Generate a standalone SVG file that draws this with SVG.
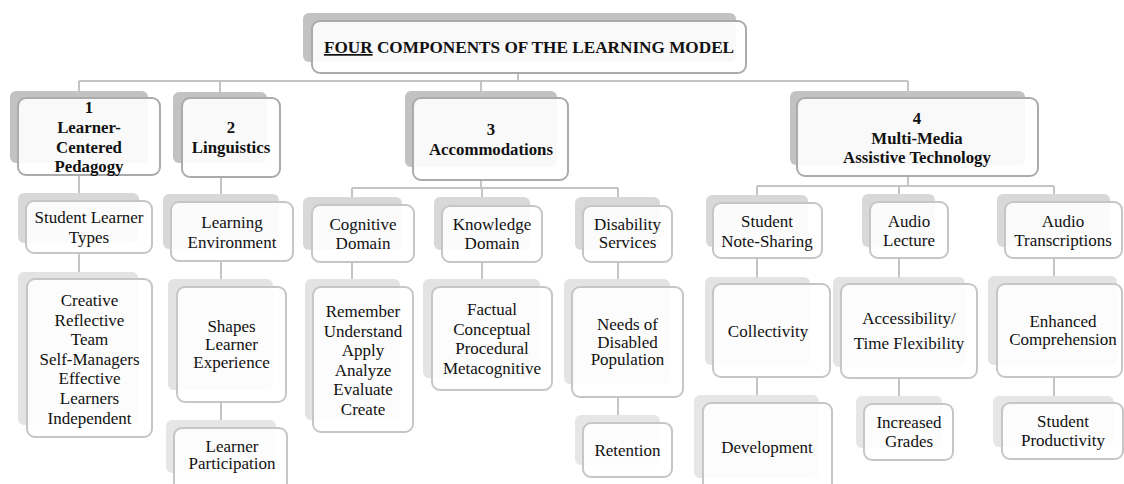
<svg xmlns="http://www.w3.org/2000/svg" width="1124" height="484" viewBox="0 0 1124 484">
<style>
.bg{fill:#ffffff}
.s0{fill:#c2c2c2}
.s1{fill:#d8d8d8}
.s2{fill:#e3e3e3}
.s3{fill:#e6e6e6}
.b0{fill:#ffffff;fill-opacity:0.9;stroke:#ababab;stroke-width:2}
.b1{fill:#ffffff;fill-opacity:0.88;stroke:#c6c6c6;stroke-width:2}
.c{fill:none;stroke:#c4c4c4;stroke-width:2}
text{font-family:'Liberation Serif','Times New Roman',serif;fill:#111;text-anchor:middle}
.tb{font-weight:bold;font-size:16.8px}
.tt{font-weight:bold;font-size:17.2px}
.t{font-size:17px}
</style>
<rect class="bg" x="0" y="0" width="1124" height="484"/>
<g id="connectors">
<path class="c" d="M518,73V81M79,81H908M79,81V91M220,81V92M481,81V91M908,81V91"/>
<path class="c" d="M79,175V193M221,177V194"/>
<path class="c" d="M481,180V188M352,188H618M352,188V197M482,188V197M618,188V197"/>
<path class="c" d="M908,176V186M757,186H1054M757,186V195M899,186V194M1054,186V194"/>
<path class="c" d="M79,253V272M221,261V279M352,262V279M482,262V279M618,262V279M757,258V277M899,258V277M1054,258V276"/>
<path class="c" d="M221,402V420M618,397V415M757,377V395M899,378V396M1054,377V396"/>
</g>
<g id="title">
<rect class="s0" x="303" y="13" width="433" height="49" rx="6"/>
<rect class="b0" x="312" y="21" width="434" height="52" rx="8"/>
<text class="tt" x="529" y="53"><tspan text-decoration="underline">FOUR</tspan> COMPONENTS OF THE LEARNING MODEL</text>
</g>
<g id="n1">
<rect class="s0" x="10" y="91" width="138" height="72" rx="6"/>
<rect class="b0" x="18" y="98" width="142" height="77" rx="8"/>
<text class="tb"><tspan x="89" y="113">1</tspan><tspan x="89" y="133">Learner-</tspan><tspan x="89" y="152.5">Centered</tspan><tspan x="89" y="172">Pedagogy</tspan></text>
</g>
<g id="n2">
<rect class="s0" x="173" y="92" width="94" height="71" rx="6"/>
<rect class="b0" x="182" y="98" width="98" height="79" rx="8"/>
<text class="tb"><tspan x="231" y="133">2</tspan><tspan x="231" y="153">Linguistics</tspan></text>
</g>
<g id="n3">
<rect class="s0" x="405" y="91" width="152" height="76" rx="6"/>
<rect class="b0" x="413" y="98" width="155" height="82" rx="8"/>
<text class="tb"><tspan x="491" y="135">3</tspan><tspan x="491" y="155">Accommodations</tspan></text>
</g>
<g id="n4">
<rect class="s0" x="790" y="91" width="235" height="74" rx="6"/>
<rect class="b0" x="797" y="98" width="241" height="78" rx="8"/>
<text class="tb"><tspan x="917" y="124">4</tspan><tspan x="917" y="143.5">Multi-Media</tspan><tspan x="917" y="163">Assistive Technology</tspan></text>
</g>
<g id="slt">
<rect class="s1" x="18" y="193" width="121" height="50" rx="6"/>
<rect class="b1" x="26" y="201" width="126" height="52" rx="8"/>
<text class="t"><tspan x="89" y="223">Student Learner</tspan><tspan x="89" y="242.5">Types</tspan></text>
</g>
<g id="le">
<rect class="s1" x="163" y="194" width="116" height="55" rx="6"/>
<rect class="b1" x="171" y="202" width="122" height="59" rx="8"/>
<text class="t"><tspan x="232" y="228">Learning</tspan><tspan x="232" y="248">Environment</tspan></text>
</g>
<g id="cd">
<rect class="s1" x="303" y="197" width="99" height="53" rx="6"/>
<rect class="b1" x="312" y="205" width="102" height="57" rx="8"/>
<text class="t"><tspan x="363" y="230">Cognitive</tspan><tspan x="363" y="249">Domain</tspan></text>
</g>
<g id="kd">
<rect class="s1" x="434" y="197" width="96" height="53" rx="6"/>
<rect class="b1" x="442" y="206" width="100" height="56" rx="8"/>
<text class="t"><tspan x="492" y="230">Knowledge</tspan><tspan x="492" y="249">Domain</tspan></text>
</g>
<g id="ds">
<rect class="s1" x="575" y="197" width="85" height="53" rx="6"/>
<rect class="b1" x="583" y="206" width="89" height="56" rx="8"/>
<text class="t"><tspan x="627.5" y="230">Disability</tspan><tspan x="627.5" y="248">Services</tspan></text>
</g>
<g id="sns">
<rect class="s1" x="706" y="195" width="102" height="52" rx="6"/>
<rect class="b1" x="713" y="203" width="109" height="55" rx="8"/>
<text class="t"><tspan x="767" y="227">Student</tspan><tspan x="767" y="247">Note-Sharing</tspan></text>
</g>
<g id="al">
<rect class="s1" x="862" y="194" width="73" height="53" rx="6"/>
<rect class="b1" x="870" y="202" width="78" height="56" rx="8"/>
<text class="t"><tspan x="909" y="227">Audio</tspan><tspan x="909" y="246">Lecture</tspan></text>
</g>
<g id="at">
<rect class="s1" x="997" y="194" width="113" height="53" rx="6"/>
<rect class="b1" x="1005" y="202" width="117" height="56" rx="8"/>
<text class="t"><tspan x="1063" y="227">Audio</tspan><tspan x="1063" y="246">Transcriptions</tspan></text>
</g>
<g id="types">
<rect class="s2" x="18" y="272" width="120" height="153" rx="6"/>
<rect class="b1" x="27" y="279" width="125" height="158" rx="8"/>
<text class="t"><tspan x="89.5" y="306">Creative</tspan><tspan x="89.5" y="325.6">Reflective</tspan><tspan x="89.5" y="345.2">Team</tspan><tspan x="89.5" y="364.8">Self-Managers</tspan><tspan x="89.5" y="384.4">Effective</tspan><tspan x="89.5" y="404">Learners</tspan><tspan x="89.5" y="423.6">Independent</tspan></text>
</g>
<g id="sle">
<rect class="s2" x="168" y="279" width="105" height="111" rx="6"/>
<rect class="b1" x="177" y="287" width="109" height="115" rx="8"/>
<text class="t"><tspan x="231.5" y="332">Shapes</tspan><tspan x="231.5" y="350">Learner</tspan><tspan x="231.5" y="368">Experience</tspan></text>
</g>
<g id="bloom">
<rect class="s2" x="305" y="279" width="95" height="141" rx="6"/>
<rect class="b1" x="313" y="287" width="100" height="145" rx="8"/>
<text class="t"><tspan x="363" y="317">Remember</tspan><tspan x="363" y="336.6">Understand</tspan><tspan x="363" y="356.2">Apply</tspan><tspan x="363" y="375.8">Analyze</tspan><tspan x="363" y="395.4">Evaluate</tspan><tspan x="363" y="415">Create</tspan></text>
</g>
<g id="know">
<rect class="s2" x="423" y="279" width="117" height="99" rx="6"/>
<rect class="b1" x="432" y="287" width="120" height="103" rx="8"/>
<text class="t"><tspan x="492" y="315">Factual</tspan><tspan x="492" y="334.7">Conceptual</tspan><tspan x="492" y="354.3">Procedural</tspan><tspan x="492" y="374">Metacognitive</tspan></text>
</g>
<g id="needs">
<rect class="s2" x="564" y="279" width="106" height="105" rx="6"/>
<rect class="b1" x="572" y="287" width="111" height="110" rx="8"/>
<text class="t"><tspan x="627.5" y="330">Needs of</tspan><tspan x="627.5" y="347.5">Disabled</tspan><tspan x="627.5" y="365">Population</tspan></text>
</g>
<g id="coll">
<rect class="s2" x="705" y="277" width="105" height="88" rx="6"/>
<rect class="b1" x="713" y="284" width="117" height="93" rx="8"/>
<text class="t" x="768" y="337">Collectivity</text>
</g>
<g id="acc">
<rect class="s2" x="833" y="277" width="132" height="90" rx="6"/>
<rect class="b1" x="841" y="284" width="136" height="94" rx="8"/>
<text class="t"><tspan x="909" y="324">Accessibility/</tspan><tspan x="909" y="349">Time Flexibility</tspan></text>
</g>
<g id="enh">
<rect class="s2" x="988" y="276" width="129" height="89" rx="6"/>
<rect class="b1" x="997" y="284" width="125" height="93" rx="8"/>
<text class="t"><tspan x="1063" y="327">Enhanced</tspan><tspan x="1063" y="345">Comprehension</tspan></text>
</g>
<g id="lp">
<rect class="s3" x="166" y="420" width="110" height="53" rx="6"/>
<rect class="b1" x="174" y="428" width="113" height="64" rx="8"/>
<text class="t"><tspan x="232" y="452">Learner</tspan><tspan x="232" y="469">Participation</tspan></text>
</g>
<g id="ret">
<rect class="s3" x="575" y="415" width="85" height="50" rx="6"/>
<rect class="b1" x="583" y="423" width="89" height="54" rx="8"/>
<text class="t" x="627.5" y="456">Retention</text>
</g>
<g id="dev">
<rect class="s3" x="694" y="395" width="125" height="83" rx="6"/>
<rect class="b1" x="703" y="403" width="129" height="92" rx="8"/>
<text class="t" x="767" y="453">Development</text>
</g>
<g id="ig">
<rect class="s3" x="856" y="396" width="86" height="52" rx="6"/>
<rect class="b1" x="864" y="404" width="89" height="56" rx="8"/>
<text class="t"><tspan x="909" y="428">Increased</tspan><tspan x="909" y="447">Grades</tspan></text>
</g>
<g id="sp">
<rect class="s3" x="993" y="396" width="121" height="51" rx="6"/>
<rect class="b1" x="1002" y="403" width="121" height="56" rx="8"/>
<text class="t"><tspan x="1063" y="427">Student</tspan><tspan x="1063" y="446">Productivity</tspan></text>
</g>
</svg>
